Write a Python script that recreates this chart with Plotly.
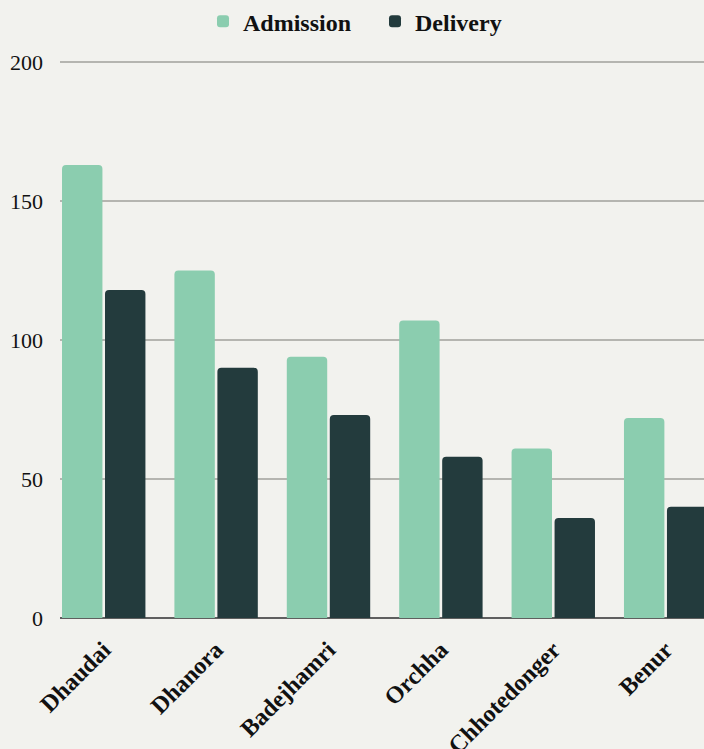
import plotly.graph_objects as go

categories = ["Dhaudai", "Dhanora", "Badejhamri", "Orchha", "Chhotedonger", "Benur"]
admission = [163, 125, 94, 107, 61, 72]
delivery = [118, 90, 73, 58, 36, 40]
y_ticks = [0, 50, 100, 150, 200]

FONT = "Liberation Serif"
BG = "#f2f2ee"

fig = go.Figure()
fig.add_trace(go.Bar(name="Admission", x=categories, y=admission,
                     marker=dict(color="#8bcdaf", line=dict(width=0))))
fig.add_trace(go.Bar(name="Delivery", x=categories, y=delivery,
                     marker=dict(color="#233b3d", line=dict(width=0))))

fig.update_layout(
    width=704, height=749,
    paper_bgcolor=BG, plot_bgcolor=BG,
    margin=dict(l=60, r=0, t=61, b=131, pad=0, autoexpand=False),
    barmode="group", bargap=0.235, bargroupgap=0.06,
    barcornerradius=4,
    showlegend=True,
    legend=dict(orientation="h", x=(203 - 60) / 644, xref="paper", xanchor="left",
                y=1.111, yref="paper", yanchor="top",
                entrywidth=127, entrywidthmode="pixels",
                font=dict(family=FONT, size=24, color="#111111", weight="bold"),
                bgcolor="rgba(0,0,0,0)", itemclick=False),
    font=dict(family=FONT, color="#111111"),
)
fig.update_xaxes(
    type="category", range=[-0.389, 5.341],
    tickangle=-45, tickfont=dict(family=FONT, size=24, color="#111111", weight="bold"),
    showgrid=False, showline=False, ticks="", zeroline=False,
    ticklabelstandoff=12,
)
fig.update_yaxes(
    range=[0, 200.4], tickvals=y_ticks,
    tickfont=dict(family=FONT, size=22, color="#111111"),
    showgrid=True, gridcolor="#b5b5b0", gridwidth=2,
    zeroline=True, zerolinecolor="#5f5f5f", zerolinewidth=2,
    ticks="", ticklabelstandoff=16, showline=False,
)

fig.write_html("out.html")
